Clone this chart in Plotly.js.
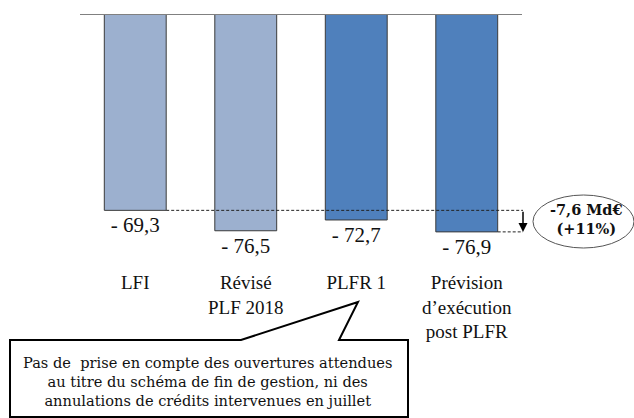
<!DOCTYPE html>
<html>
<head>
<meta charset="utf-8">
<script src="https://cdn.plot.ly/plotly-3.0.1.min.js"></script>
<style>html,body{margin:0;padding:0;background:#fff;}</style>
</head>
<body>
<div id="chart" style="width:634px;height:418px;"></div>
<script>
const categories = ['LFI', 'Révisé<br>PLF 2018', 'PLFR 1', 'Prévision<br>d\u2019exécution<br>post PLFR'];
const values = [-69.3, -76.5, -72.7, -76.9];
const barColors = ['#9CB0CF', '#9CB0CF', '#4F80BC', '#4F80BC'];
const calloutLines = [
  'Pas de  prise en compte des ouvertures attendues',
  'au titre du schéma de fin de gestion, ni des',
  'annulations de crédits intervenues en juillet'
];

const fmt = v => '- ' + Math.abs(v).toFixed(1).replace('.', ',');
const diff = values[3] - values[0];
const pct = Math.round(Math.abs(diff) / Math.abs(values[0]) * 100);
const diffLabel = diff.toFixed(1).replace('.', ',') + ' Md\u20ac';
const pctLabel = '(+' + pct + '%)';

// layout geometry (pixels)
const W = 634, H = 418, L = 80, R = 112, T = 14, B = 149;
const PW = W - L - R, PH = H - T - B;
const px = x => (x - L) / PW;
const py = y => (H - B - y) / PH;
const serif = '"Liberation Serif", "DejaVu Serif", serif';
const wideSerif = '"DejaVu Serif", serif';
const barWidth = 0.56;

const trace = {
  type: 'bar',
  x: categories,
  y: values,
  width: barWidth,
  marker: {color: barColors, line: {color: '#3a3a3a', width: 1}},
  text: values.map(fmt),
  textposition: 'outside',
  textfont: {family: serif, size: 21, color: '#111'},
  cliponaxis: false,
  hoverinfo: 'skip'
};

const calloutPath = 'M' + px(10) + ',' + py(340) + ' L' + px(241) + ',' + py(340) +
  ' L' + px(358) + ',' + py(302) + ' L' + px(339) + ',' + py(340) +
  ' L' + px(408) + ',' + py(340) + ' L' + px(408) + ',' + py(417) +
  ' L' + px(10) + ',' + py(417) + ' Z';

const layout = {
  width: W, height: H,
  margin: {l: L, r: R, t: T, b: B, pad: 0},
  paper_bgcolor: '#fff', plot_bgcolor: '#fff',
  showlegend: false,
  xaxis: {
    type: 'category', range: [-0.5, 3.5], showgrid: false, zeroline: false,
    showline: false, ticks: '', fixedrange: true,
    tickfont: {family: serif, size: 19, color: '#111'}
  },
  yaxis: {
    range: [-90, 0], showgrid: false, zeroline: false, showline: false,
    showticklabels: false, ticks: '', fixedrange: true
  },
  shapes: [
    {type: 'line', xref: 'paper', yref: 'y', x0: 0, x1: 1, y0: 0, y1: 0,
     line: {color: '#808080', width: 2}},
    {type: 'line', xref: 'paper', yref: 'y', x0: (0 + barWidth / 2 + 0.5) / 4, x1: px(523),
     y0: values[0], y1: values[0], line: {color: '#222', width: 1, dash: '3px,2px'}},
    {type: 'line', xref: 'paper', yref: 'y', x0: (3 + barWidth / 2 + 0.5) / 4, x1: px(523),
     y0: values[3], y1: values[3], line: {color: '#222', width: 1, dash: '3px,2px'}},
    {type: 'circle', xref: 'paper', yref: 'paper', x0: px(533), x1: px(634), y0: py(195), y1: py(248),
     line: {color: '#555', width: 1}, fillcolor: 'rgba(0,0,0,0)'},
    {type: 'path', xref: 'paper', yref: 'paper', path: calloutPath,
     line: {color: '#000', width: 2}, fillcolor: '#fff'}
  ],
  annotations: [
    {xref: 'paper', yref: 'y', x: px(523), y: values[3], ax: 0, ay: values[0], axref: 'pixel', ayref: 'y',
     text: '', showarrow: true, arrowhead: 2, arrowsize: 1.2, arrowwidth: 1.5, arrowcolor: '#000'},
    {xref: 'paper', yref: 'paper', x: px(586), y: py(219), xanchor: 'center', yanchor: 'middle',
     text: '<b>' + diffLabel + '<br>' + pctLabel + '</b>', showarrow: false,
     font: {family: wideSerif, size: 14.5, color: '#111'}},
    {xref: 'paper', yref: 'paper', x: px(207), y: py(381), xanchor: 'center', yanchor: 'middle',
     text: calloutLines.join('<br>'), showarrow: false,
     font: {family: wideSerif, size: 14.6, color: '#111'}}
  ]
};

Plotly.newPlot('chart', [trace], layout, {displayModeBar: false, staticPlot: true});
</script>
</body>
</html>
